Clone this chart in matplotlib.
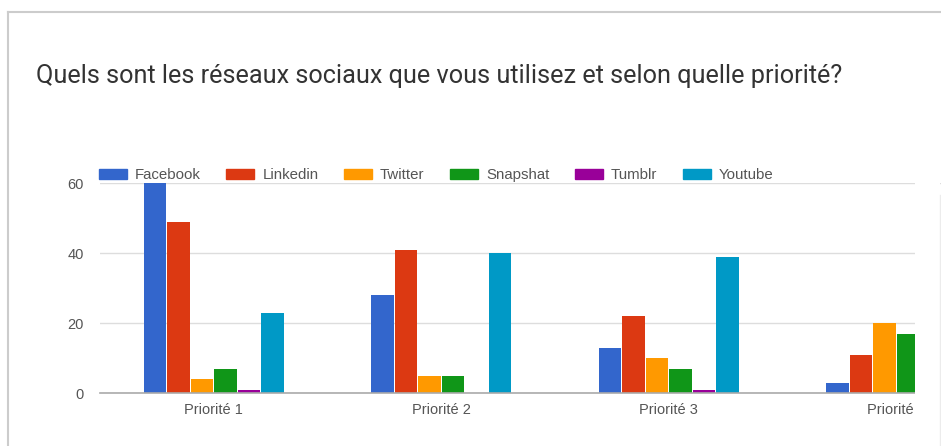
import matplotlib
matplotlib.use("Agg")
import matplotlib.pyplot as plt
import numpy as np
from matplotlib.lines import Line2D
from matplotlib.patches import Rectangle

categories = ["Priorité 1", "Priorité 2", "Priorité 3", "Priorité 4"]
series_names = ["Facebook", "Linkedin", "Twitter", "Snapshat", "Tumblr", "Youtube"]
facebook = [60, 28, 13, 3]
linkedin = [49, 41, 22, 11]
twitter = [4, 5, 10, 20]
snapshat = [7, 5, 7, 17]
tumblr = [1, 0, 1, 0]
youtube = [23, 40, 39, 0]
yticks = [0, 20, 40, 60]

colours = ["#3366CC", "#DC3912", "#FF9900", "#109618", "#990099", "#0099C6"]
values = [facebook, linkedin, twitter, snapshat, tumblr, youtube]

W, H = 941, 446
plt.rcParams["font.family"] = ["Liberation Sans", "DejaVu Sans"]
fig = plt.figure(figsize=(W / 100, H / 100), dpi=100)
fig.patch.set_facecolor("white")

# plot area runs past the card edge, the 4th group gets cut off like the screenshot
left, right, base, top = 100, 1010, 393.3, 183.3
ax = fig.add_axes([left / W, (H - base) / H, (right - left) / W, (base - top) / H])
ax.set_facecolor("none")

x = np.arange(len(categories))
bw = 0.103
for i, (name, vals, col) in enumerate(zip(series_names, values, colours)):
    ax.bar(x + (i - 2.5) * bw, vals, width=bw * 0.96, color=col, label=name, zorder=3)

ax.set_xlim(-0.5, len(categories) - 0.5)
ax.set_ylim(0, 60)
ax.set_yticks(yticks)
ax.set_xticks(x, categories)
ax.grid(axis="y", color="#dddddd", linewidth=1, zorder=0)
for s in ["top", "right", "left"]:
    ax.spines[s].set_visible(False)
ax.spines["bottom"].set_color("#aaaaaa")
ax.spines["bottom"].set_linewidth(1.2)
ax.spines["bottom"].set_zorder(4)
ax.tick_params(axis="both", length=0, labelsize=10.5, labelcolor="#555555")
ax.tick_params(axis="y", pad=11.5)
ax.tick_params(axis="x", pad=7)

handles = [Rectangle((0, 0), 1, 1, color=c) for c in colours]
fig.legend(handles, series_names, loc="center left",
           bbox_to_anchor=(99 / W, 1 - 175 / H), ncol=6, frameon=False,
           fontsize=10.8, labelcolor="#555555", handlelength=1.87, handleheight=0.67,
           handletextpad=0.53, columnspacing=1.7, borderpad=0, borderaxespad=0)

# white cover right of the clipped chart, then the card border
fig.add_artist(Rectangle((915 / W, 0), 25 / W, 1 - 14 / H, transform=fig.transFigure,
                         facecolor="white", edgecolor="none", zorder=10))
fig.add_artist(Line2D([8 / W, 1], [1 - 12 / H] * 2, transform=fig.transFigure,
                      color="#cccccc", linewidth=1.5, zorder=11))
fig.add_artist(Line2D([8 / W] * 2, [0, 1 - 12 / H], transform=fig.transFigure,
                      color="#cccccc", linewidth=1.5, zorder=11))
fig.add_artist(Line2D([939.5 / W] * 2, [0, 1 - 195 / H], transform=fig.transFigure,
                      color="#ececec", linewidth=1, zorder=11))

fig.text(36 / W, 1 - 76 / H, "Quels sont les réseaux sociaux que vous utilisez et selon quelle priorité?",
         family=["Roboto", "DejaVu Sans"], fontsize=18.2, color="#333333", ha="left", va="center")

fig.savefig("out.png", dpi=100, facecolor="white")
